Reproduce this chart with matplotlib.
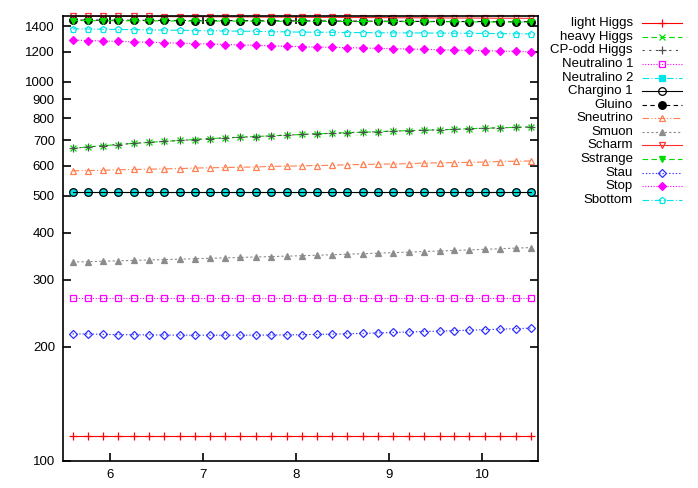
import matplotlib
matplotlib.use("Agg")
import matplotlib.pyplot as plt
from matplotlib.lines import Line2D
import numpy as np

plt.rcParams['font.family'] = ['Liberation Sans', 'DejaVu Sans']
plt.rcParams['font.size'] = 9.5

# parameter grid (x axis)
xvals = [5.60, 5.76, 5.93, 6.09, 6.26, 6.42, 6.58, 6.75, 6.91, 7.08, 7.24,
         7.40, 7.57, 7.73, 7.90, 8.06, 8.22, 8.39, 8.55, 8.72, 8.88, 9.04,
         9.21, 9.37, 9.54, 9.70, 9.86, 10.03, 10.19, 10.36, 10.52]

# masses
light_higgs = [116.5, 116.5, 116.5, 116.5, 116.5, 116.5, 116.5, 116.5, 116.5, 116.5, 116.5,
               116.5, 116.5, 116.5, 116.5, 116.5, 116.5, 116.5, 116.5, 116.5, 116.5, 116.5,
               116.5, 116.5, 116.5, 116.5, 116.5, 116.5, 116.5, 116.5, 116.5]
heavy_higgs = [667, 673, 678, 683, 688, 692, 696, 700, 704, 708, 711,
               714, 717, 720, 723, 726, 729, 731, 734, 736, 738, 741,
               743, 745, 747, 749, 752, 754, 756, 758, 760]
cp_odd_higgs = [667, 673, 678, 683, 688, 692, 696, 700, 704, 708, 711,
                714, 717, 720, 723, 726, 729, 731, 734, 736, 738, 741,
                743, 745, 747, 749, 752, 754, 756, 758, 760]
neutralino1 = [268.5, 268.5, 268.5, 268.5, 268.5, 268.5, 268.5, 268.5, 268.5, 268.5, 268.5,
               268.5, 268.5, 268.5, 268.5, 268.5, 268.5, 268.5, 268.5, 268.5, 268.5, 268.5,
               268.5, 268.5, 268.5, 268.5, 268.5, 268.5, 268.5, 268.5, 268.5]
neutralino2 = [511, 511, 511, 511, 511, 511, 511, 511, 511, 511, 511,
               511, 511, 511, 511, 511, 511, 511, 511, 511, 511, 511,
               511, 511, 511, 511, 511, 511, 511, 511, 511]
chargino1 = [511, 511, 511, 511, 511, 511, 511, 511, 511, 511, 511,
             511, 511, 511, 511, 511, 511, 511, 511, 511, 511, 511,
             511, 511, 511, 511, 511, 511, 511, 511, 511]
gluino = [1455, 1454, 1454, 1453, 1453, 1452, 1452, 1451, 1451, 1450, 1450,
          1449, 1449, 1448, 1448, 1447, 1447, 1446, 1446, 1445, 1445, 1444,
          1444, 1443, 1443, 1442, 1442, 1441, 1441, 1440, 1440]
sneutrino = [582, 583, 584, 586, 587, 588, 589, 590, 592, 593, 594,
             595, 596, 598, 599, 600, 601, 602, 604, 605, 606, 607,
             608, 610, 611, 612, 613, 614, 616, 617, 618]
smuon = [334.5, 335.2, 336.0, 336.9, 337.8, 338.6, 339.4, 340.3, 341.2, 342.1, 343.0,
         343.9, 344.8, 345.7, 346.6, 347.5, 348.5, 349.6, 350.7, 351.8, 352.9, 354.0,
         355.2, 356.4, 357.6, 358.8, 360.0, 361.3, 362.6, 363.9, 365.2]
scharm = [1490, 1489, 1489, 1488, 1487, 1487, 1486, 1485, 1485, 1484, 1483,
          1483, 1482, 1481, 1481, 1480, 1479, 1479, 1478, 1477, 1477, 1476,
          1475, 1475, 1474, 1473, 1473, 1472, 1471, 1471, 1470]
sstrange = [1450, 1450, 1449, 1449, 1448, 1448, 1447, 1447, 1447, 1446, 1446,
            1445, 1445, 1445, 1444, 1444, 1443, 1443, 1442, 1442, 1442, 1441,
            1441, 1440, 1440, 1440, 1439, 1439, 1438, 1438, 1437]
stau = [216.0, 216.0, 215.5, 215.0, 215.0, 214.8, 214.6, 214.5, 214.4, 214.4, 214.4,
        214.4, 214.5, 214.6, 214.8, 215.0, 215.4, 215.8, 216.3, 216.8, 217.4, 218.0,
        218.6, 219.2, 219.8, 220.4, 221.0, 221.7, 222.4, 223.1, 223.8]
stop = [1288, 1285, 1281, 1278, 1275, 1271, 1268, 1265, 1261, 1258, 1254,
        1251, 1248, 1244, 1241, 1238, 1235, 1233, 1230, 1228, 1225, 1223,
        1220, 1218, 1215, 1213, 1210, 1208, 1205, 1203, 1200]
sbottom = [1380, 1378, 1376, 1374, 1373, 1371, 1369, 1367, 1365, 1363, 1361,
           1360, 1358, 1356, 1354, 1352, 1351, 1350, 1349, 1348, 1347, 1346,
           1346, 1345, 1344, 1343, 1342, 1341, 1340, 1339, 1338]

yticks = [100, 200, 300, 400, 500, 600, 700, 800, 900, 1000, 1200, 1400]
xticks = [6, 7, 8, 9, 10]

# label, data, color, linestyle, marker, markersize, filled
series = [
    ("light Higgs", light_higgs, "#ff0000", "-", "+", 5.5, False),
    ("heavy Higgs", heavy_higgs, "#00dd00", (0, (5, 3)), "x", 4.5, False),
    ("CP-odd Higgs", cp_odd_higgs, "#505050", (0, (2, 4)), "+", 5.5, False),
    ("Neutralino 1", neutralino1, "#ff00ff", (0, (1, 1.5)), "s", 4.5, False),
    ("Neutralino 2", neutralino2, "#00e5e5", (0, (6, 2, 1, 2)), "s", 4, True),
    ("Chargino 1", chargino1, "#000000", "-", "o", 5.5, False),
    ("Gluino", gluino, "#000000", (0, (4, 3)), "o", 5.5, True),
    ("Sneutrino", sneutrino, "#ff7f50", (0, (6, 2, 1, 2, 1, 2)), "^", 5, False),
    ("Smuon", smuon, "#8c8c8c", (0, (2, 2)), "^", 4.5, True),
    ("Scharm", scharm, "#ff3030", "-", "v", 5, False),
    ("Sstrange", sstrange, "#00dd00", (0, (5, 3)), "v", 5, True),
    ("Stau", stau, "#3030ff", (0, (1.2, 1.8)), "D", 4, False),
    ("Stop", stop, "#ff00ff", (0, (1, 1.5)), "D", 4, True),
    ("Sbottom", sbottom, "#00e5e5", (0, (6, 2, 1, 2)), "p", 5, False),
]

W, H = 698, 488
fig = plt.figure(figsize=(W / 100, H / 100), dpi=100)
ax = fig.add_axes([63.3 / W, 1 - 460.7 / H, (538.3 - 63.3) / W, (460.7 - 15.7) / H])

for label, vals, c, ls, m, ms, filled in series:
    ax.plot(xvals, vals, color=c, ls=ls, lw=0.8, marker=m, ms=ms,
            mfc=c if filled else 'none', mec=c, mew=0.9, clip_on=False)

ax.set_yscale('log')
ax.set_xlim(5.5, 10.6)
ax.set_ylim(100, 1494)
ax.set_yticks(yticks)
ax.set_yticklabels([str(t) for t in yticks])
ax.yaxis.set_minor_locator(matplotlib.ticker.NullLocator())
ax.set_xticks(xticks)
ax.tick_params(which='major', direction='in', length=6, width=1.2,
               top=True, right=True, labelsize=9.5, pad=6)
for sp in ax.spines.values():
    sp.set_linewidth(1.2)

# gnuplot-like key: right-aligned text, sample line on the right
y0, dy = 23.3, 13.57
for i, (label, vals, c, ls, m, ms, filled) in enumerate(series):
    yp = 1 - (y0 + i * dy) / H
    fig.text(633 / W, yp, label, ha='right', va='center', fontsize=9.5)
    fig.add_artist(Line2D([642 / W, 682 / W], [yp, yp], transform=fig.transFigure,
                          color=c, ls=ls, lw=0.8))
    fig.add_artist(Line2D([662 / W], [yp], transform=fig.transFigure, color=c,
                          marker=m, ms=ms, mfc=c if filled else 'none', mec=c, mew=0.9))

fig.savefig("out.png", dpi=100)
